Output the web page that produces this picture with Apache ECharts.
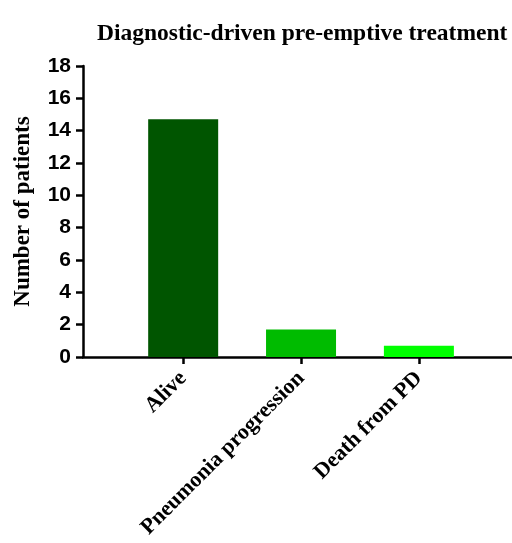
<!DOCTYPE html>
<html>
<head>
<meta charset="utf-8">
<script src="https://cdn.jsdelivr.net/npm/echarts@6/dist/echarts.min.js"></script>
<style>html,body{margin:0;padding:0;background:#fff}#c{width:512px;height:543px}</style>
</head>
<body>
<div id="c"></div>
<script>
const categories = ['Alive', 'Pneumonia progression', 'Death from PD'];
const values = [14.7, 1.7, 0.7];
const colors = ['#005500', '#00bb00', '#00ff00'];
const positions = [1, 2, 3];
const yTicks = [0, 2, 4, 6, 8, 10, 12, 14, 16, 18];

const chart = echarts.init(document.getElementById('c'));
chart.setOption({
  animation: false,
  title: {
    text: 'Diagnostic-driven pre-emptive treatment',
    left: 92, top: 17,
    textStyle: { fontFamily: 'Liberation Serif', fontWeight: 'bold', fontSize: 23.5, color: '#000' }
  },
  grid: { left: 83, right: 0, top: 66, bottom: 186 },
  xAxis: {
    type: 'value', min: 0.15, max: 3.79,
    splitLine: { show: false },
    axisLine: { show: true, lineStyle: { color: '#000', width: 2.5 } },
    axisTick: { show: true, customValues: positions, length: 7, lineStyle: { color: '#000', width: 2.5 } },
    axisLabel: {
      customValues: positions, rotate: 45, margin: 18,
      fontFamily: 'Liberation Serif', fontWeight: 'bold', fontSize: 22, color: '#000',
      formatter: v => categories[Math.round(v) - 1] || ''
    }
  },
  yAxis: {
    type: 'value', min: 0, max: 18, interval: 2,
    name: 'Number of patients', nameLocation: 'middle', nameGap: 48,
    nameTextStyle: { fontFamily: 'Liberation Serif', fontWeight: 'bold', fontSize: 23, color: '#000' },
    splitLine: { show: false },
    axisLine: { show: true, lineStyle: { color: '#000', width: 2.5 } },
    axisTick: { show: true, length: 7, lineStyle: { color: '#000', width: 2.5 } },
    axisLabel: {
      margin: 12, fontFamily: 'Liberation Sans', fontWeight: 'bold', fontSize: 21, color: '#000',
      formatter: v => yTicks.includes(v) ? String(v) : ''
    }
  },
  series: [{
    type: 'bar', barWidth: 70,
    data: values.map((v, i) => ({ value: [positions[i], v], itemStyle: { color: colors[i] } }))
  }]
});
</script>
</body>
</html>
